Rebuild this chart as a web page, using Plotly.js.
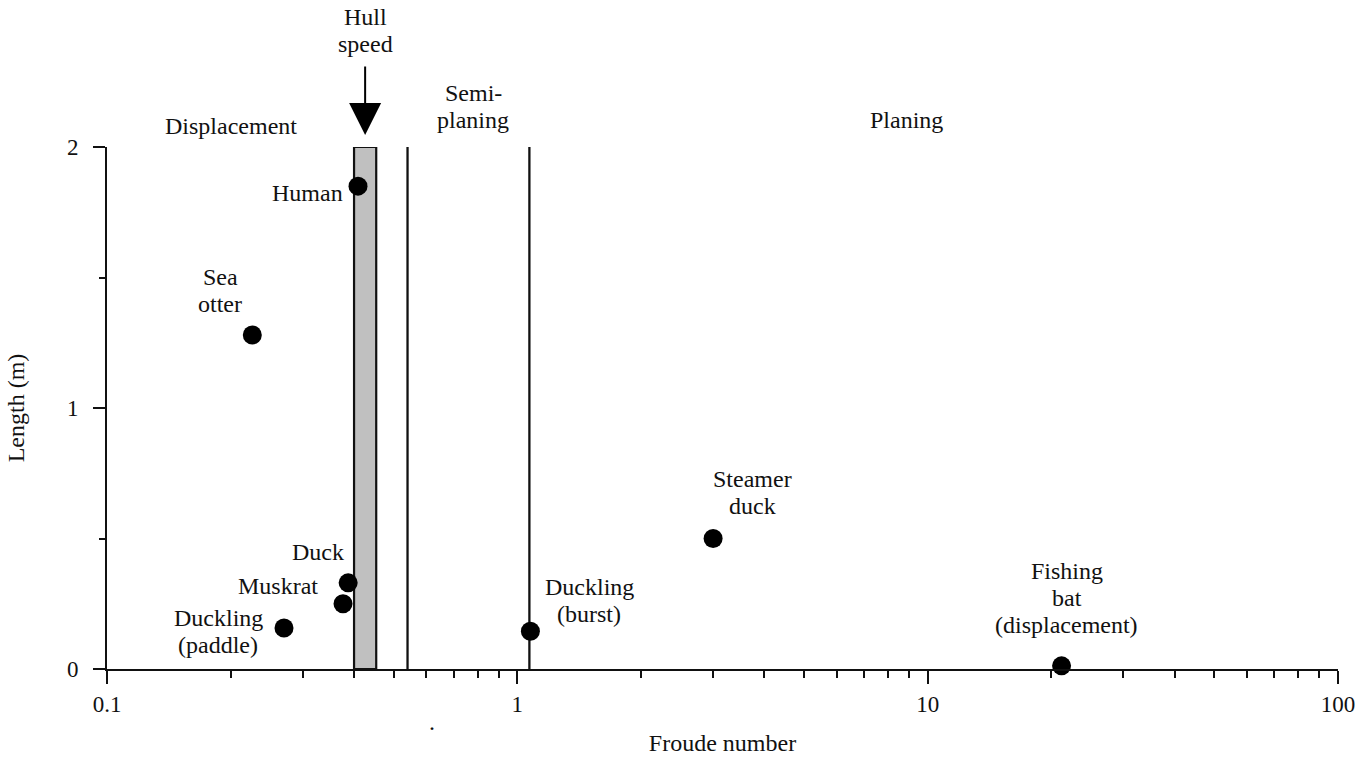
<!DOCTYPE html>
<html><head><meta charset="utf-8">
<script src="https://cdn.plot.ly/plotly-3.0.1.min.js"></script>
<style>html,body{margin:0;padding:0;background:#fff}#chart{width:1368px;height:757px}</style>
</head><body><div id="chart"></div>
<script>
// ---- data ----
const animals = [['Human'], ['Sea', 'otter'], ['Duck'], ['Muskrat'], ['Duckling', '(paddle)'], ['Duckling', '(burst)'], ['Steamer', 'duck'], ['Fishing', 'bat', '(displacement)']];
const froude = [0.409, 0.226, 0.387, 0.376, 0.270, 1.076, 3.0, 21.2];
const lengthM = [1.85, 1.28, 0.33, 0.25, 0.157, 0.145, 0.50, 0.012];
const hullSpeedBand = [0.400, 0.453];
const regimeBoundaries = [0.54, 1.07];
const lengthExtent = [0, 2];
const regimeNames = [['Displacement'], ['Semi-', 'planing'], ['Planing']];
const regimeLabelFroude = [0.2, 0.781, 8.9];
const hullSpeedLabel = ['Hull', 'speed'];
const xTickVals = [0.1, 1, 10, 100];
const xTickText = ['0.1', '1', '10', '100'];
const yTickVals = [0, 1, 2];
const yTickText = ['0', '1', '2'];
const yMinorStep = 0.5;

// ---- placement / styling (pixels) ----
const labelPlacement = [
  {xanchor: 'right',  dx: -13, dy: -7},
  {xanchor: 'center', dx: -32, dy: 44},
  {xanchor: 'right',  dx: -2,  dy: 31},
  {xanchor: 'right',  dx: -23, dy: 18},
  {xanchor: 'center', dx: -66, dy: -3},
  {xanchor: 'center', dx: 59,  dy: 31},
  {xanchor: 'center', dx: 39,  dy: 46},
  {xanchor: 'center', dx: 5,   dy: 68}
];
const regimeShift = [21, 41, 27];
const hullTextShift = 117;
const LINE = 27;
const FONT = 'Liberation Serif';
const FS = 24;
const TICKFS = 23;
const INK = '#111';

const minorX = [];
[0.1, 1, 10].forEach(d => { for (let k = 2; k <= 9; k++) minorX.push(+(d * k).toPrecision(3)); });

const traces = [];
// hull speed band
traces.push({
  x: [hullSpeedBand[0], hullSpeedBand[1], hullSpeedBand[1], hullSpeedBand[0], hullSpeedBand[0]],
  y: [lengthExtent[0], lengthExtent[0], lengthExtent[1], lengthExtent[1], lengthExtent[0]],
  type: 'scatter', mode: 'lines', fill: 'toself', fillcolor: '#c0c0c0',
  line: {color: INK, width: 2.2}, hoverinfo: 'skip', showlegend: false
});
// regime boundaries
regimeBoundaries.forEach(b => traces.push({
  x: [b, b], y: lengthExtent, type: 'scatter', mode: 'lines',
  line: {color: INK, width: 2.3}, hoverinfo: 'skip', showlegend: false
}));
// animals
traces.push({
  x: froude, y: lengthM, text: animals.map(a => a.join(' ')), type: 'scatter', mode: 'markers',
  marker: {color: '#000', size: 19}, cliponaxis: false, showlegend: false,
  hovertemplate: '%{text}: %{x}, %{y}<extra></extra>'
});

const annotations = [];
function addLines(lines, base, shiftX, shiftY, xanchor) {
  const n = lines.length;
  lines.forEach((t, j) => annotations.push(Object.assign({}, base, {
    text: t, showarrow: false, xanchor: xanchor, yanchor: 'middle',
    xshift: shiftX, yshift: shiftY + ((n - 1) / 2 - j) * LINE,
    font: {family: FONT, size: FS, color: INK}
  })));
}
animals.forEach((a, i) => addLines(a,
  {x: Math.log10(froude[i]), y: lengthM[i], xref: 'x', yref: 'y'},
  labelPlacement[i].dx, labelPlacement[i].dy, labelPlacement[i].xanchor));
regimeNames.forEach((r, i) => addLines(r,
  {x: Math.log10(regimeLabelFroude[i]), y: 1, xref: 'x', yref: 'paper'},
  0, regimeShift[i], 'center'));
const hullX = Math.log10(Math.sqrt(hullSpeedBand[0] * hullSpeedBand[1]));
addLines(hullSpeedLabel, {x: hullX, y: 1, xref: 'x', yref: 'paper'}, 0, hullTextShift, 'center');
// hull speed arrow
annotations.push({
  x: hullX, y: 1, xref: 'x', yref: 'paper',
  text: '', showarrow: true, arrowhead: 2, arrowsize: 3.2, arrowwidth: 2,
  arrowcolor: '#000', ax: 0, ay: -70, yshift: 12
});
// stray mark
annotations.push({
  x: 0.26, y: -0.13, xref: 'paper', yref: 'paper', text: '.', showarrow: false,
  font: {family: FONT, size: FS, color: INK}
});

const layout = {
  width: 1368, height: 757,
  margin: {l: 107, r: 30, t: 147, b: 88},
  paper_bgcolor: '#fff', plot_bgcolor: '#fff',
  font: {family: FONT, size: FS, color: INK},
  showlegend: false,
  xaxis: {
    type: 'log', range: [-1, 2], showgrid: false, zeroline: false,
    showline: true, linecolor: INK, linewidth: 2,
    ticks: 'outside', ticklen: 13, tickwidth: 2, tickcolor: INK,
    tickmode: 'array', tickvals: xTickVals, ticktext: xTickText,
    tickfont: {family: FONT, size: TICKFS, color: INK},
    minor: {ticks: 'outside', ticklen: 7, tickwidth: 2, tickcolor: INK, tickmode: 'array', tickvals: minorX, showgrid: false},
    title: {text: 'Froude number', font: {family: FONT, size: FS, color: INK}, standoff: 19}
  },
  yaxis: {
    range: lengthExtent, showgrid: false, zeroline: false,
    showline: true, linecolor: INK, linewidth: 2,
    ticks: 'outside', ticklen: 12, tickwidth: 2, tickcolor: INK,
    tickmode: 'array', tickvals: yTickVals, ticktext: yTickText,
    tickfont: {family: FONT, size: TICKFS, color: INK}, ticklabelstandoff: 10,
    minor: {ticks: 'outside', ticklen: 6, tickwidth: 2, tickcolor: INK, dtick: yMinorStep, tick0: 0, showgrid: false},
    title: {text: 'Length (m)', font: {family: FONT, size: FS, color: INK}, standoff: 36}
  },
  annotations: annotations
};

Plotly.newPlot('chart', traces, layout, {displayModeBar: false, staticPlot: true});
</script>
</body></html>
